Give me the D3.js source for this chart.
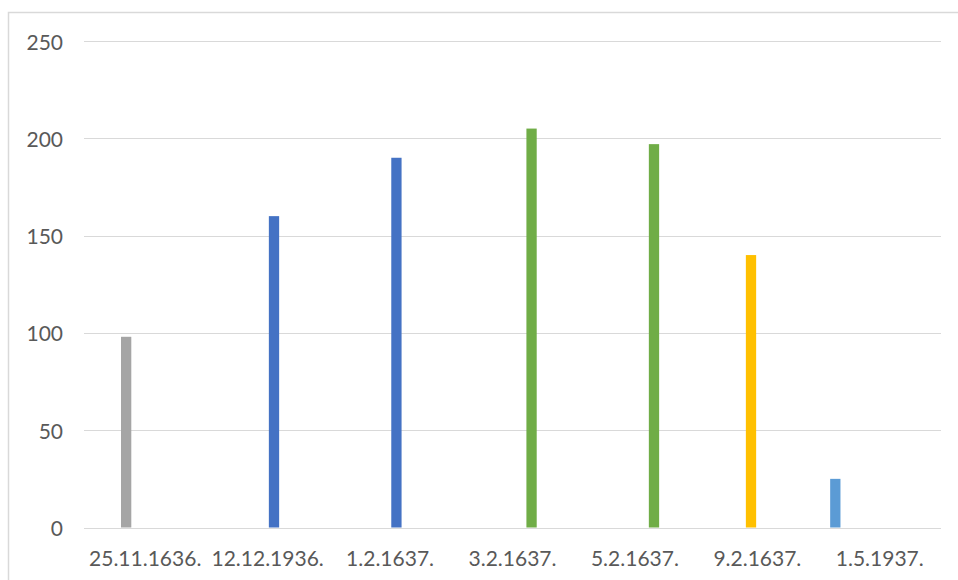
<!DOCTYPE html>
<html>
<head>
<meta charset="utf-8">
<script src="https://cdn.jsdelivr.net/npm/d3@7"></script>
<style>
  body { margin: 0; background: #fff; }
  svg { display: block; font-family: Lato, "Open Sans", sans-serif; }
  .tick-label { fill: #595959; font-size: 21px; }
  .grid line { stroke: #d9d9d9; stroke-width: 1; }
</style>
</head>
<body>
<svg id="chart" width="958" height="580"></svg>
<script>
// categories (dates) and the value for each
const categories = ["25.11.1636.", "12.12.1936.", "1.2.1637.", "3.2.1637.", "5.2.1637.", "9.2.1637.", "1.5.1937."];
const values = [98, 160, 190, 205, 197, 140, 25];
// which series each value belongs to (chart has 8 series, most empty per date)
const seriesNames = ["Serija 1", "Serija 2", "Serija 3", "Serija 4", "Serija 5", "Serija 6", "Serija 7", "Serija 8"];
const seriesOfValue = [2, 4, 4, 5, 5, 3, 0];
const seriesColors = ["#5b9bd5", "#ed7d31", "#a5a5a5", "#ffc000", "#4472c4", "#70ad47", "#264478", "#9e480e"];
const yTicks = [0, 50, 100, 150, 200, 250];

const svg = d3.select("#chart");
const plotLeft = 84, plotRight = 941, plotTop = 41, plotBottom = 527.5;

// chart frame
svg.append("rect")
  .attr("x", 8.5).attr("y", 12.5)
  .attr("width", 980).attr("height", 600)
  .attr("fill", "none")
  .attr("stroke", "#d9d9d9")
  .attr("stroke-width", 1.5);

const x = d3.scaleBand()
  .domain(categories)
  .range([plotLeft, plotRight])
  .paddingInner(0.15)
  .paddingOuter(0.075);

const xs = d3.scaleBand()
  .domain(seriesNames)
  .range([0, x.bandwidth()])
  .padding(0.19);

const y = d3.scaleLinear()
  .domain([0, 250])
  .range([plotBottom, plotTop]);

// gridlines
svg.append("g")
  .attr("class", "grid")
  .selectAll("line")
  .data(yTicks)
  .enter()
  .append("line")
  .attr("x1", plotLeft).attr("x2", plotRight)
  .attr("y1", d => Math.round(y(d)) + 0.5)
  .attr("y2", d => Math.round(y(d)) + 0.5);

// y labels
svg.append("g")
  .selectAll("text")
  .data(yTicks)
  .enter()
  .append("text")
  .attr("class", "tick-label")
  .attr("x", 63)
  .attr("y", d => y(d) + 8.5)
  .attr("text-anchor", "end")
  .text(d => d);

// bars
svg.append("g")
  .selectAll("rect")
  .data(values)
  .enter()
  .append("rect")
  .attr("x", (d, i) => x(categories[i]) + xs(seriesNames[seriesOfValue[i]]))
  .attr("width", xs.bandwidth())
  .attr("y", d => y(d))
  .attr("height", d => y(0) - y(d))
  .attr("fill", (d, i) => seriesColors[seriesOfValue[i]]);

// category labels
svg.append("g")
  .selectAll("text")
  .data(categories)
  .enter()
  .append("text")
  .attr("class", "tick-label")
  .attr("x", d => x(d) + x.bandwidth() / 2)
  .attr("y", 566)
  .attr("text-anchor", "middle")
  .text(d => d);
</script>
</body>
</html>
